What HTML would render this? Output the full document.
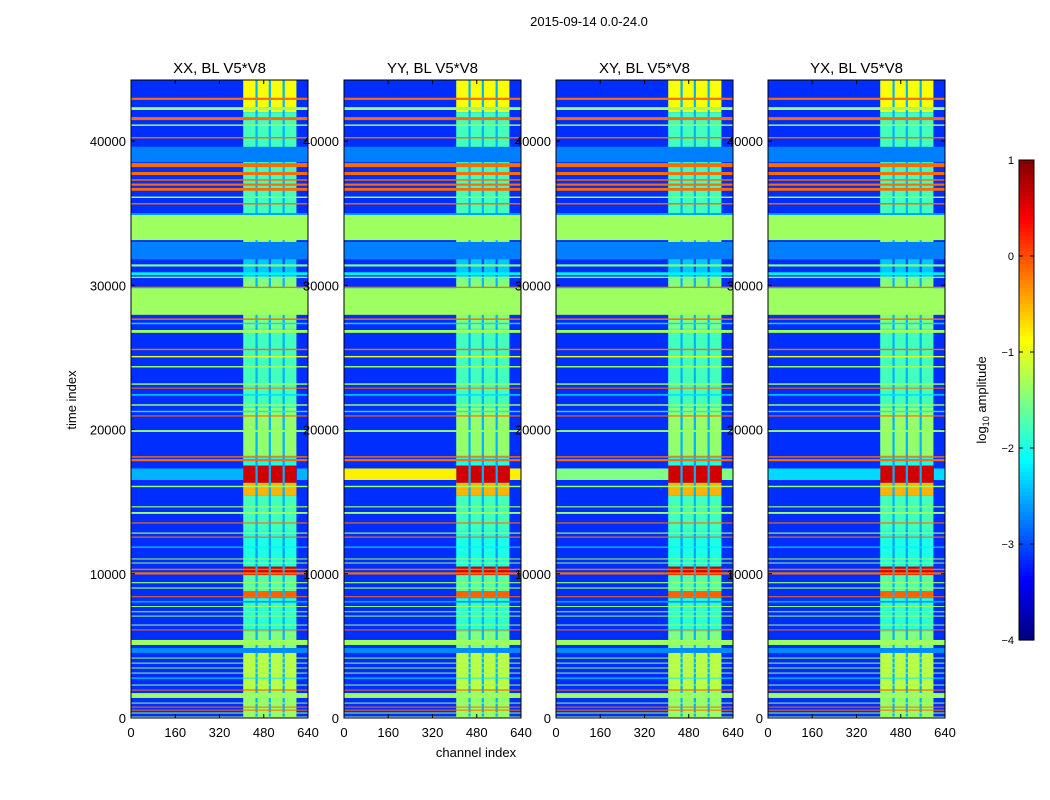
<!DOCTYPE html>
<html><head><meta charset="utf-8">
<style>
html,body{margin:0;padding:0;background:#fff;}
svg{display:block;font-family:"Liberation Sans","DejaVu Sans",sans-serif;}
</style></head>
<body>
<svg id="fig" width="1050" height="800" viewBox="0 0 1050 800" xmlns="http://www.w3.org/2000/svg">
<rect x="0" y="0" width="1050" height="800" fill="#fff"/>
<text x="589" y="26" font-size="13" text-anchor="middle">2015-09-14 0.0-24.0</text>
<g id="panels"></g>
<g id="cbar"></g>
<text transform="translate(76,400) rotate(-90)" font-size="13" text-anchor="middle">time index</text>
<text x="476" y="757" font-size="13" text-anchor="middle">channel index</text>
<text transform="translate(986,400) rotate(-90)" font-size="13" text-anchor="middle">log<tspan font-size="9" dy="3">10</tspan><tspan dy="-3"> amplitude</tspan></text>
</svg>
<script>
// ---- data ----
const panelTitles = ["XX, BL V5*V8","YY, BL V5*V8","XY, BL V5*V8","YX, BL V5*V8"];
const xTicks = [0,160,320,480,640];
const yTicks = [0,10000,20000,30000,40000];
const cbTicks = [1,0,-1,-2,-3,-4];
const backgroundValue = -3.15;
// channel sub-blocks [start,end]
const blockChans = [[406,450],[458,498],[506,548],[556,598]];
// channel block levels [tStart,tEnd,value]
const blockLevels = [
 [42000,44230,-0.9],[34500,42000,-1.8],[33000,34500,-1.35],[30500,33000,-2.4],[27000,30500,-1.5],
 [21500,27000,-1.8],[18200,21500,-1.4],[17500,18200,-2.0],[16300,17500,0.6],[15400,16300,-0.5],
 [13000,15400,-1.8],[10500,13000,-2.0],[9900,10500,0.6],[8800,9900,-1.7],[8300,8800,-0.1],
 [6000,8300,-1.9],[4800,6000,-1.5],[2000,4800,-1.2],[0,2000,-1.4]
];
// full-width horizontal bands [tStart,tEnd,value]
const bands = [
 [42850,43000,-0.15],[42150,42350,-1.35],[41450,41660,-0.15],[41050,41150,-1.35],[40180,40280,-0.15],
 [38540,39600,-2.75],[38190,38470,-0.15],[37640,37850,-0.15],[37250,37350,-0.15],[36900,37050,-0.15],
 [36550,36750,-0.15],[36050,36150,-1.35],[35600,35700,-0.15],[34870,35000,-2.6],[33130,34870,-1.35],
 [31800,33000,-2.75],[31300,31450,-1.5],[30700,30900,-2.2],[30500,30600,-1.5],
 [29800,29900,-0.15],[27950,29800,-1.35],[27600,27700,-0.15],[27300,27400,-2.3],[26700,26900,-1.35],
 [25500,25600,-0.15],[25000,25100,-1.0],[24300,24400,-1.35],[23100,23200,-1.35],[22850,22900,-0.15],
 [22350,22450,-2.3],[21650,21750,-1.35],[21200,21300,-2.2],[20900,20980,-0.15],[19830,19960,-1.35],
 [18050,18150,-0.15],[17800,17950,-0.15],[16000,16100,-1.35],[14600,14680,-1.35],[14150,14280,-1.35],
 [13480,13560,-0.15],[12780,12860,-1.35],[12500,12580,-0.15],[11820,11880,-2.2],[11000,11060,-1.35],
 [10720,10780,-1.35],[10250,10350,-0.15],[9950,10100,-0.15],[9340,9420,-1.35],[8970,9050,-1.35],
 [8380,8440,-0.15],[8000,8120,-2.6],[7700,7760,-1.35],[7340,7400,-1.35],[7040,7100,-1.35],
 [6420,6480,-1.35],[6070,6140,-0.15],[5060,5410,-1.35],[4510,4850,-2.7],[4130,4190,-1.35],
 [3780,3840,-1.35],[3440,3500,-1.35],[3090,3150,-1.35],[2740,2800,-2.2],[2260,2320,-1.35],
 [1910,1970,-0.15],[1390,1730,-1.35],[1010,1070,-1.35],[730,790,-0.15],[520,580,-0.15],
 [320,380,-1.35],[0,100,-1.35]
];
// per-panel broad band near t=17000 [tStart,tEnd] and values
const midBand = [16500,17300];
const midBandValues = [-2.5,-0.8,-1.5,-2.3];

// ---- layout ----
const panelX = [131,344,556,768], PW=177, PY=80, PH=638;
const TMAX = 44230, CMAX = 640;
const NS="http://www.w3.org/2000/svg";
function jet(v){
 let f=(v+4)/5; f=Math.max(0,Math.min(1,f));
 const c=x=>Math.round(255*Math.max(0,Math.min(1,x)));
 const r=c(Math.min(4*f-1.5,-4*f+4.5)), g=c(Math.min(4*f-0.5,-4*f+3.5)), b=c(Math.min(4*f+0.5,-4*f+2.5));
 return `rgb(${r},${g},${b})`;
}
function mk(tag,attrs,parent){const e=document.createElementNS(NS,tag);for(const k in attrs)e.setAttribute(k,attrs[k]);parent.appendChild(e);return e;}
const panelsG=document.getElementById('panels');
panelX.forEach((px,pi)=>{
 const xs=c=>px+c/CMAX*PW;
 const ys=t=>PY+PH-t/TMAX*PH;
 const g=mk('g',{},panelsG);
 
 
 const bg=mk('rect',{x:px,y:PY,width:PW,height:PH,fill:jet(backgroundValue)},g);
 
 
 blockLevels.forEach(b=>{
  const y0=ys(b[1]), y1=ys(b[0]);
  const gap=mk('rect',{x:xs(blockChans[0][0]),y:y0,width:xs(blockChans[3][1])-xs(blockChans[0][0]),height:y1-y0,fill:jet(Math.min(b[2]-0.6,-2.5))},g);
  
  
  blockChans.forEach(ch=>{
   const r=mk('rect',{x:xs(ch[0]),y:y0,width:xs(ch[1])-xs(ch[0]),height:y1-y0,fill:jet(b[2])},g);
   
   
  });
 });
 const mb=mk('rect',{x:px,y:ys(midBand[1]),width:xs(blockChans[0][0])-px,height:ys(midBand[0])-ys(midBand[1]),fill:jet(midBandValues[pi])},g);
 
 
 const mb2=mk('rect',{x:xs(600),y:ys(midBand[1]),width:px+PW-xs(600),height:ys(midBand[0])-ys(midBand[1]),fill:jet(midBandValues[pi])},g);
 
 
 bands.forEach(b=>{
  const y0=ys(b[1]), y1=ys(b[0]);
  const r=mk('rect',{x:px,y:y0,width:PW,height:Math.max(1,y1-y0),fill:jet(b[2])},g);
  
  
 });
 const fr=mk('rect',{x:px,y:PY,width:PW,height:PH,fill:'none',stroke:'#000','stroke-width':1},g);
 
 
 const tt=mk('text',{x:px+PW/2,y:PY-7,'font-size':15,'text-anchor':'middle'},g);
 tt.textContent=panelTitles[pi];
 
 
 xTicks.forEach(v=>{
  const x=xs(v);
  mk('line',{x1:x,y1:PY+PH,x2:x,y2:PY+PH-4,stroke:'#000'},g);
  mk('line',{x1:x,y1:PY,x2:x,y2:PY+4,stroke:'#000'},g);
  const t=mk('text',{x:x,y:PY+PH+19,'font-size':13,'text-anchor':'middle'},g);
  t.textContent=v;
  
  
 });
 yTicks.forEach(v=>{
  const y=ys(v);
  mk('line',{x1:px,y1:y,x2:px+4,y2:y,stroke:'#000'},g);
  mk('line',{x1:px+PW,y1:y,x2:px+PW-4,y2:y,stroke:'#000'},g);
  const t=mk('text',{x:px-5,y:y+5,'font-size':13,'text-anchor':'end'},g);
  t.textContent=v;
  
  
 });
});
// colorbar
const cb=document.getElementById('cbar');


const CBX=1019,CBW=15,CBY=160,CBH=480;
const cys=v=>CBY+(1-v)/5*CBH;
for(let i=0;i<120;i++){
 const v=1-i*5/120;
 mk('rect',{x:CBX,y:CBY+i*CBH/120,width:CBW,height:CBH/120+0.6,fill:jet(v-5/240)},cb);
}
mk('rect',{x:CBX,y:CBY,width:CBW,height:CBH,fill:'none',stroke:'#000'},cb);
cbTicks.forEach(v=>{
 const y=cys(v);
 mk('line',{x1:CBX,y1:y,x2:CBX+4,y2:y,stroke:'#000'},cb);
 mk('line',{x1:CBX+CBW,y1:y,x2:CBX+CBW-4,y2:y,stroke:'#000'},cb);
 const t=mk('text',{x:CBX-5,y:y+4,'font-size':11,'text-anchor':'end'},cb);
 t.textContent=v<0?'\u2212'+(-v):String(v);
 
 
});
</script>
</body></html>
